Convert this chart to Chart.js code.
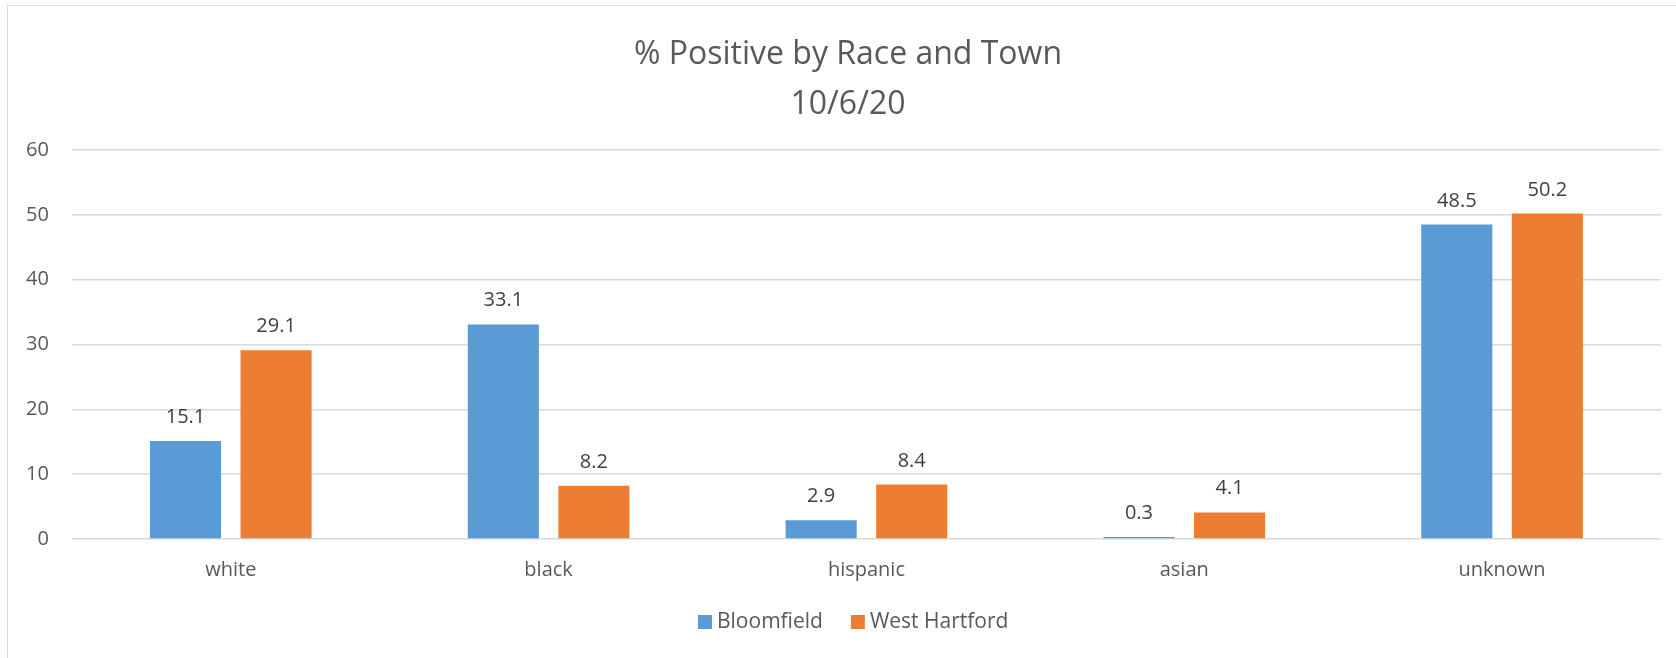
<!DOCTYPE html>
<html>
<head>
<meta charset="utf-8">
<script src="https://cdn.jsdelivr.net/npm/chart.js@4.4.0/dist/chart.umd.min.js"></script>
<style>
  html, body { margin: 0; padding: 0; background: #fff; }
  #wrap { position: relative; width: 1676px; height: 658px; }
  #frame { position: absolute; left: 7px; top: 5px; right: 0; bottom: 0;
           border-top: 1.5px solid #d9d9d9; border-left: 1.5px solid #d9d9d9; }
  canvas { position: absolute; left: 0; top: 0; }
</style>
</head>
<body>
<div id="wrap">
  <div id="frame"></div>
  <canvas id="barCanvas" width="1676" height="658"></canvas>
</div>
<script>
// dữ liệu
const categories = ["white", "black", "hispanic", "asian", "unknown"];
const bloomfield = [15.1, 33.1, 2.9, 0.3, 48.5];
const westHartford = [29.1, 8.2, 8.4, 4.1, 50.2];
const yTicks = [0, 10, 20, 30, 40, 50, 60];
const titleLines = ["% Positive by Race and Town", "10/6/20"];

const FONT = "'Open Sans', 'Noto Sans', sans-serif";

// plugin nhỏ để vẽ số trên đầu cột
const barLabels = {
  id: "barLabels",
  afterDatasetsDraw(chart) {
    const ctx = chart.ctx;
    ctx.save();
    ctx.font = "20px " + FONT;
    ctx.fillStyle = "#404040";
    ctx.textAlign = "center";
    ctx.textBaseline = "alphabetic";
    chart.data.datasets.forEach((ds, di) => {
      const meta = chart.getDatasetMeta(di);
      meta.data.forEach((bar, i) => {
        ctx.fillText(ds.data[i].toFixed(1), bar.x, bar.y - 18);
      });
    });
    ctx.restore();
  }
};

// tiêu đề hai dòng + chú thích kiểu Excel (hơi lệch phải so với giữa canvas)
const excelText = {
  id: "excelText",
  afterDraw(chart) {
    const ctx = chart.ctx;
    ctx.save();
    ctx.font = "32px " + FONT;
    ctx.fillStyle = "#595959";
    ctx.textAlign = "center";
    ctx.textBaseline = "middle";
    titleLines.forEach((t, i) => ctx.fillText(t, 848, 55 + i * 50));

    // chú thích
    ctx.font = "21px " + FONT;
    ctx.textAlign = "left";
    let x = 698;
    const y = 622;
    chart.data.datasets.forEach((ds) => {
      ctx.fillStyle = ds.backgroundColor;
      ctx.fillRect(x, y - 7, 14, 14);
      x += 14 + 5;
      ctx.fillStyle = "#595959";
      ctx.fillText(ds.label, x, y);
      x += ctx.measureText(ds.label).width + 28;
    });
    ctx.restore();
  }
};

const ctx = document.getElementById("barCanvas").getContext("2d");

new Chart(ctx, {
  type: "bar",
  data: {
    labels: categories,
    datasets: [
      { label: "Bloomfield", data: bloomfield, backgroundColor: "#5B9BD5" },
      { label: "West Hartford", data: westHartford, backgroundColor: "#ED7D31" }
    ]
  },
  options: {
    responsive: false,
    animation: false,
    devicePixelRatio: 1,
    categoryPercentage: 0.57,
    barPercentage: 0.785,
    layout: { padding: { left: 3, right: 15, top: 150, bottom: 65 } },
    plugins: {
      title: { display: false },
      legend: { display: false },
      tooltip: { enabled: false }
    },
    scales: {
      x: {
        grid: { display: false },
        border: { display: false },
        ticks: { color: "#595959", font: { family: FONT, size: 20 }, padding: 11 }
      },
      y: {
        min: 0,
        max: 60,
        afterBuildTicks: (axis) => { axis.ticks = yTicks.map(v => ({ value: v })); },
        grid: { color: "#d9d9d9", lineWidth: 1.5, drawTicks: false },
        border: { display: false },
        ticks: { color: "#595959", font: { family: FONT, size: 20 }, padding: 23 }
      }
    }
  },
  plugins: [barLabels, excelText]
});
</script>
</body>
</html>
